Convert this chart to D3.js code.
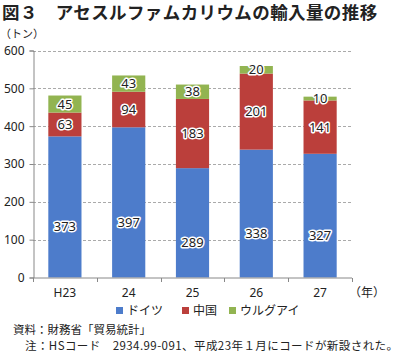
<!DOCTYPE html>
<html lang="ja">
<head>
<meta charset="utf-8">
<title>図3 アセスルファムカリウムの輸入量の推移</title>
<script src="https://d3js.org/d3.v7.min.js"></script>
<style>
  body { margin: 0; background: #fff; }
  text { font-family: "Noto Sans CJK JP", "Noto Sans", sans-serif; }
</style>
</head>
<body>
<script>
    // Data
    const years   = ["H23", "24", "25", "26", "27"];
    const germany = [373, 397, 289, 338, 327];
    const china   = [63, 94, 183, 201, 141];
    const uruguay = [45, 43, 38, 20, 10];
    const seriesNames  = ["ドイツ", "中国", "ウルグアイ"];
    const seriesColors = ["#4d7ccb", "#bb3f3b", "#92b451"];
    const yTicks = [0, 100, 200, 300, 400, 500, 600];

    const W = 400, H = 353;
    const plotLeft = 33, plotRight = 352, plotTop = 50.5, plotBottom = 277.5;

    const svg = d3.select("body").append("svg")
        .attr("width", W).attr("height", H);

    // Title
    svg.append("text")
        .attr("x", 2).attr("y", 19)
        .attr("font-size", 17.5).attr("font-weight", "bold")
        .attr("letter-spacing", 0.4)
        .attr("fill", "#222")
        .text("図３　アセスルファムカリウムの輸入量の推移");

    svg.append("text")
        .attr("x", 0).attr("y", 38)
        .attr("font-size", 11).attr("fill", "#222")
        .text("（トン）");

    const x = d3.scaleBand().domain(years).range([plotLeft, plotRight]).paddingInner(0.48).paddingOuter(0.24);
    const y = d3.scaleLinear().domain([0, 600]).range([plotBottom, plotTop]);

    // grid lines
    svg.append("g").selectAll("line")
        .data(yTicks.filter(d => d > 0))
        .enter().append("line")
        .attr("x1", plotLeft).attr("x2", plotRight)
        .attr("y1", d => Math.round(y(d)) + 0.5).attr("y2", d => Math.round(y(d)) + 0.5)
        .attr("stroke", "#aaa").attr("stroke-width", 1)
        .attr("stroke-dasharray", "3,2");

    // y axis
    const yAxis = svg.append("g")
        .attr("transform", `translate(${plotLeft + 0.5},0)`)
        .call(d3.axisLeft(y).tickValues(yTicks).tickSize(4).tickPadding(5));
    yAxis.select(".domain").attr("stroke", "#888");
    yAxis.selectAll(".tick line").attr("stroke", "#888");
    yAxis.selectAll("text").attr("font-size", 12).attr("fill", "#222")
        .style("font-family", "'Noto Sans', sans-serif");

    // stacked data
    const rows = years.map((yr, i) => ({ year: yr, s0: germany[i], s1: china[i], s2: uruguay[i] }));
    const stack = d3.stack().keys(["s0", "s1", "s2"])(rows);

    const layers = svg.append("g").selectAll("g")
        .data(stack).enter().append("g")
        .attr("fill", (d, i) => seriesColors[i]);

    layers.selectAll("rect")
        .data(d => d)
        .enter().append("rect")
        .attr("x", d => x(d.data.year))
        .attr("width", x.bandwidth())
        .attr("y", d => y(d[1]))
        .attr("height", d => y(d[0]) - y(d[1]));

    // value labels
    layers.selectAll("text")
        .data(d => d.map(v => Object.assign(v, { key: d.key })))
        .enter().append("text")
        .attr("x", d => x(d.data.year) + x.bandwidth() / 2)
        .attr("y", d => {
            const mid = (y(d[0]) + y(d[1])) / 2;
            return (d.key === "s0" ? mid + 20 : mid) + 4.5;
        })
        .attr("text-anchor", "middle")
        .attr("font-size", 13)
        .attr("fill", "#222")
        .attr("stroke", "#fff").attr("stroke-width", 3)
        .attr("paint-order", "stroke")
        .attr("stroke-linejoin", "round")
        .style("font-family", "'Noto Sans', sans-serif")
        .text(d => d[1] - d[0]);

    // x axis
    const xAxisG = svg.append("g").attr("transform", `translate(0,${plotBottom + 0.5})`);
    xAxisG.append("line").attr("x1", plotLeft).attr("x2", plotRight).attr("stroke", "#888");
    const bounds = d3.range(years.length + 1).map(i => plotLeft + i * (plotRight - plotLeft) / years.length);
    xAxisG.selectAll(".tk").data(bounds).enter().append("line")
        .attr("x1", d => Math.round(d) + 0.5).attr("x2", d => Math.round(d) + 0.5)
        .attr("y1", 0).attr("y2", 4).attr("stroke", "#888");
    xAxisG.selectAll(".lbl").data(years).enter().append("text")
        .attr("x", d => x(d) + x.bandwidth() / 2)
        .attr("y", 19)
        .attr("text-anchor", "middle")
        .attr("font-size", 12).attr("fill", "#222")
        .style("font-family", "'Noto Sans', sans-serif")
        .text(d => d);
    xAxisG.append("text")
        .attr("x", 349).attr("y", 19)
        .attr("font-size", 12).attr("fill", "#222")
        .text("（年）");

    // legend
    const legendX = [116, 182, 229];
    const lg = svg.append("g").selectAll("g")
        .data(seriesNames).enter().append("g")
        .attr("transform", (d, i) => `translate(${legendX[i]},311)`);
    lg.append("rect").attr("x", 0).attr("y", -4).attr("width", 7).attr("height", 7)
        .attr("fill", (d, i) => seriesColors[i]);
    lg.append("text").attr("x", 11).attr("y", 4)
        .attr("font-size", 12).attr("fill", "#222")
        .text(d => d);

    // notes
    svg.append("text").attr("x", 13).attr("y", 334)
        .attr("font-size", 11.5).attr("fill", "#222")
        .text("資料：財務省「貿易統計」");
    svg.append("text").attr("x", 25).attr("y", 350)
        .attr("font-size", 11.5).attr("fill", "#222")
        .attr("textLength", 373).attr("lengthAdjust", "spacing")
        .text("注：HSコード　2934.99-091、平成23年１月にコードが新設された。");
</script>
</body>
</html>
